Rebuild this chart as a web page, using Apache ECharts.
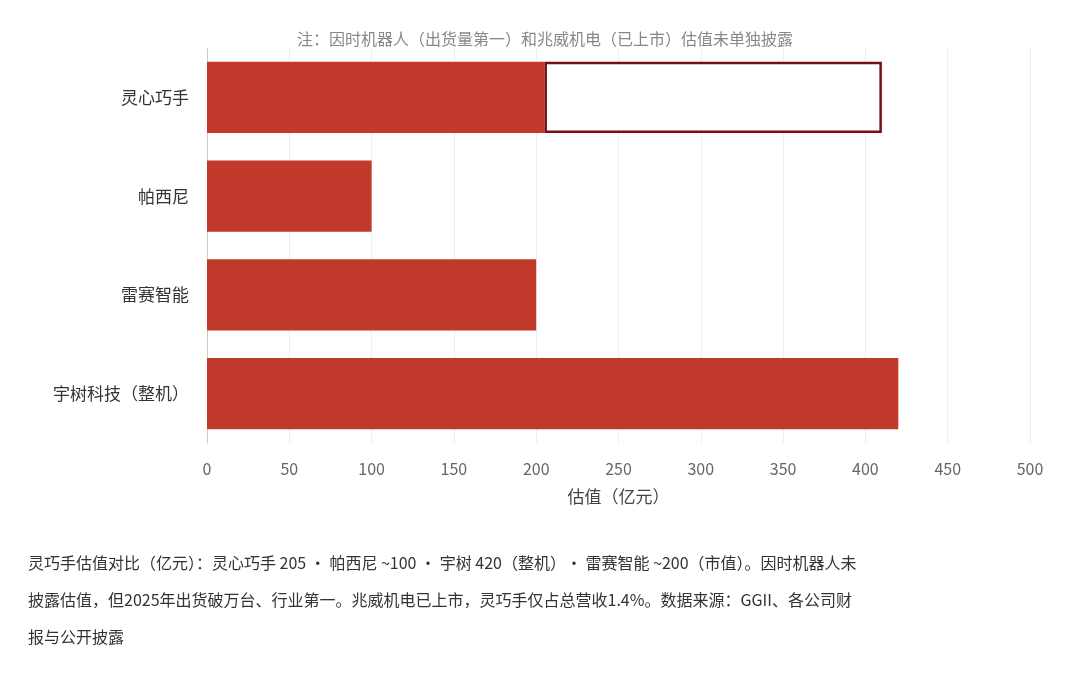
<!DOCTYPE html>
<html><head><meta charset="utf-8">
<script src="https://cdn.jsdelivr.net/npm/echarts@6/dist/echarts.min.js"></script>
<style>html,body{margin:0;padding:0;background:#fff}#c{width:1080px;height:676px}</style>
</head><body><div id="c"></div>
<script>
const categories = ['宇树科技（整机）','雷赛智能','帕西尼','灵心巧手'];
const values = [420, 200, 100, 205];
const rangeExtra = [null, null, null, 205];
const xTicks = [0,50,100,150,200,250,300,350,400,450,500];
const note = '注：因时机器人（出货量第一）和兆威机电（已上市）估值未单独披露';
const footer = '灵巧手估值对比（亿元）：灵心巧手 205 · 帕西尼 ~100 · 宇树 420（整机）· 雷赛智能 ~200（市值）。因时机器人未\n披露估值，但2025年出货破万台、行业第一。兆威机电已上市，灵巧手仅占总营收1.4%。数据来源：GGII、各公司财\n报与公开披露';
const chart = echarts.init(document.getElementById('c'));
const ff = '"Noto Sans CJK SC", "Noto Sans", sans-serif';
chart.setOption({
  backgroundColor:'#fff',
  textStyle:{fontFamily:ff},
  title:{text:note,left:540,textAlign:'center',top:26,textStyle:{fontSize:16,fontWeight:'normal',color:'#888',fontFamily:ff}},
  grid:{left:207,right:50,top:48,bottom:233},
  xAxis:{type:'value',min:xTicks[0],max:xTicks[xTicks.length-1],interval:50,
    name:'估值（亿元）',nameLocation:'middle',nameGap:45,
    nameTextStyle:{fontSize:17,color:'#444',fontFamily:ff},
    axisLabel:{fontSize:16,color:'#666',margin:18},
    axisLine:{show:false},axisTick:{show:false},
    splitLine:{lineStyle:{color:'#eee'}}},
  yAxis:{type:'category',data:categories,
    axisLabel:{fontSize:17,color:'#333',margin:18},
    axisLine:{lineStyle:{color:'#ccc'}},axisTick:{show:false}},
  series:[
    {type:'bar',stack:'a',data:values,barWidth:'72%',itemStyle:{color:'#c0392b'}},
    {type:'bar',stack:'a',data:rangeExtra,barWidth:'72%',itemStyle:{color:'#fff',borderColor:'#7a0f12',borderWidth:2.5}}
  ],
  graphic:[{type:'text',left:28,top:544,style:{text:footer,fontSize:16,lineHeight:37,fill:'#333',fontFamily:ff}}]
});
</script></body></html>
